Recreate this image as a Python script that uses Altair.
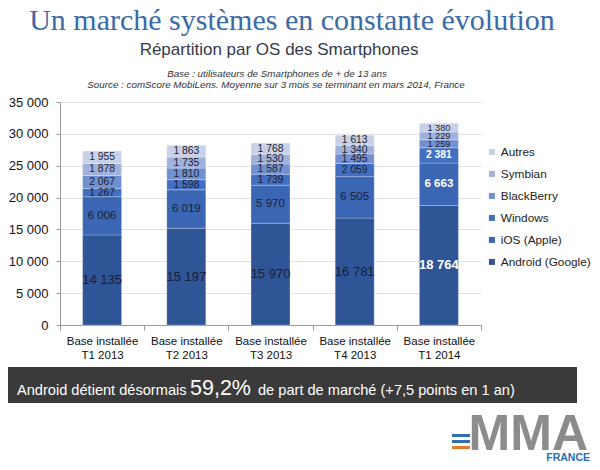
import altair as alt
import pandas as pd

# ---- data ----
quarters = ["T1 2013", "T2 2013", "T3 2013", "T4 2013", "T1 2014"]
os_names = ["Android (Google)", "iOS (Apple)", "Windows", "BlackBerry", "Symbian", "Autres"]
android = [14135, 15197, 15970, 16781, 18764]
ios = [6006, 6019, 5970, 6505, 6663]
windows = [1267, 1598, 1739, 2059, 2381]
blackberry = [2067, 1810, 1587, 1495, 1259]
symbian = [1878, 1735, 1530, 1340, 1229]
autres = [1955, 1863, 1768, 1613, 1380]
y_ticks = [0, 5000, 10000, 15000, 20000, 25000, 30000, 35000]

title_text = ["Un marché systèmes en constante évolution"]
subtitle_text = ["Répartition par OS des Smartphones"]
base_text = ["Base : utilisateurs de Smartphones de + de 13 ans"]
source_text = ["Source : comScore MobiLens.  Moyenne sur 3 mois se terminant en mars 2014, France"]
band_text1 = ["Android détient désormais"]
band_text2 = ["59,2%"]
band_text3 = ["de part de marché (+7,5 points en 1 an)"]
logo_text = ["MMA"]
logo_sub = ["FRANCE"]

# ---- styles ----
os_colors = {
    "Android (Google)": "#2f5597",
    "iOS (Apple)": "#3a66b4",
    "Windows": "#426fbf",
    "BlackBerry": "#7190cf",
    "Symbian": "#a0b1da",
    "Autres": "#c8d1e8",
}
FONT = "Liberation Sans"
label_sizes = {"Android (Google)": 13, "iOS (Apple)": 11.5, "Windows": 10.3,
               "BlackBerry": 10.3, "Symbian": 10.3, "Autres": 10.3}
legend_order = ["Autres", "Symbian", "BlackBerry", "Windows", "iOS (Apple)", "Android (Google)"]

series = [android, ios, windows, blackberry, symbian, autres]
rows = []
for rank, (name, vals) in enumerate(zip(os_names, series)):
    for q, v in zip(quarters, vals):
        hl = 1 if (q == "T1 2014" and rank <= 2) else 0
        fs = label_sizes[name]
        if q == "T1 2014" and rank >= 3:
            fs = 9.2
        rows.append({"quarter": q, "os": name, "value": v, "rank": rank,
                     "fs": fs, "hl": hl})
df = pd.DataFrame(rows)

OX, OY = 60, 102  # page position of plot origin


def px(x):
    return x - OX


def py(y):
    return y - OY


x_axis = alt.Axis(labelExpr="datum.label ? ['Base installée', datum.label] : ''",
                  labelAngle=0, labelFont=FONT, labelFontSize=11.5,
                  labelColor="#111", labelLineHeight=14, labelPadding=5,
                  tickBand="extent", tickSize=5, tickColor="#9a9a9a",
                  domainColor="#9a9a9a", labelOverlap=False, title=None)
y_axis = alt.Axis(values=y_ticks, labelOverlap=False, tickCount=8,
                  labelExpr="replace(format(datum.value, ','), ',', ' ')",
                  labelFont=FONT, labelFontSize=13, labelColor="#111",
                  labelPadding=8, tickSize=4, tickColor="#9a9a9a",
                  domainColor="#9a9a9a", gridColor="#e2e2e2", title=None)
x_scale = alt.Scale(paddingInner=0, paddingOuter=0)
y_scale = alt.Scale(domain=[0, 35000], nice=False)

base = alt.Chart(df)

bars = base.mark_bar(size=39, stroke="#ffffff", strokeWidth=0.5, strokeOpacity=0.5).encode(
    x=alt.X("quarter:N", sort=quarters, scale=x_scale, axis=x_axis),
    y=alt.Y("value:Q", stack="zero", scale=y_scale, axis=y_axis),
    color=alt.Color("os:N",
                    scale=alt.Scale(domain=legend_order,
                                    range=[os_colors[o] for o in legend_order]),
                    legend=alt.Legend(orient="none", legendX=426, legendY=44, title=None,
                                      padding=0, offset=0,
                                      symbolType="square", symbolSize=36,
                                      symbolStrokeWidth=0, labelFont=FONT,
                                      labelFontSize=11.8, labelColor="#222",
                                      labelOffset=3, rowPadding=9, labelLimit=200)),
    order=alt.Order("rank:Q", sort="ascending"),
)

stacked = base.transform_stack(
    stack="value", as_=["y0", "y1"], groupby=["quarter"],
    sort=[alt.SortField("rank", order="ascending")],
).transform_calculate(
    mid="(datum.y0 + datum.y1) / 2",
    lab="replace(format(datum.value, ','), ',', ' ')",
)

labels_dark = stacked.transform_filter("datum.hl == 0").mark_text(
    font=FONT, color="#1b1d33", baseline="middle").encode(
    x=alt.X("quarter:N", sort=quarters, scale=x_scale, axis=x_axis),
    y=alt.Y("mid:Q", stack=None, scale=y_scale, axis=y_axis),
    text="lab:N",
    size=alt.Size("fs:Q", scale=None, legend=None),
)
labels_white = stacked.transform_filter("datum.hl == 1").mark_text(
    font=FONT, color="#ffffff", fontWeight="bold", baseline="middle").encode(
    x=alt.X("quarter:N", sort=quarters, scale=x_scale, axis=x_axis),
    y=alt.Y("mid:Q", stack=None, scale=y_scale, axis=y_axis),
    text="lab:N",
    size=alt.Size("fs:Q", scale=None, legend=None),
)


def text_layer(values, x, y, **kw):
    return alt.Chart(pd.DataFrame({"t": values})).mark_text(**kw).encode(
        text="t:N", x=alt.value(x), y=alt.value(y))


title = text_layer(title_text, px(292), py(30), font="Liberation Serif", fontSize=30,
                   color="#3b6ba6", align="center", baseline="alphabetic")
subtitle = text_layer(subtitle_text, px(279), py(55), font=FONT, fontSize=17,
                      color="#343a4e", align="center", baseline="alphabetic")
base_line = text_layer(base_text, px(277), py(77), font=FONT, fontSize=9.8,
                       fontStyle="italic", color="#333", align="center", baseline="alphabetic")
source_line = text_layer(source_text, px(276), py(88), font=FONT, fontSize=9.8,
                         fontStyle="italic", color="#333", align="center", baseline="alphabetic")

band = alt.Chart(pd.DataFrame({"a": [0]})).mark_rect(color="#3a3a3a").encode(
    x=alt.value(px(8)), x2=alt.value(px(577)), y=alt.value(py(367)), y2=alt.value(py(403)))
bt1 = text_layer(band_text1, px(17), py(394.5), font=FONT, fontSize=14.6, color="#ffffff",
                 align="left", baseline="alphabetic")
bt2 = text_layer(band_text2, px(190), py(395), font=FONT, fontSize=21.5, color="#ffffff",
                 align="left", baseline="alphabetic")
bt3 = text_layer(band_text3, px(258), py(394.5), font=FONT, fontSize=14.6, color="#ffffff",
                 align="left", baseline="alphabetic")

logo = text_layer(logo_text, px(588), py(450), font=FONT, fontSize=50, fontWeight="bold",
                  color="#8c8c8c", align="right", baseline="alphabetic")
logo2 = text_layer(logo_sub, px(590), py(461), font=FONT, fontSize=10.5, fontWeight="bold",
                   color="#2a6db5", align="right", baseline="alphabetic")


def stripe(y, color):
    return alt.Chart(pd.DataFrame({"a": [0]})).mark_rect(color=color).encode(
        x=alt.value(px(452)), x2=alt.value(px(470)), y=alt.value(py(y)), y2=alt.value(py(y + 3)))


s1 = stripe(434, "#2f6db5")
s2 = stripe(440, "#2f6db5")
s3 = stripe(446, "#e07a2a")

chart = alt.layer(
    bars, labels_dark, labels_white, title, subtitle, base_line, source_line,
    band, bt1, bt2, bt3, logo, logo2, s1, s2, s3,
).properties(
    width=421, height=223,
    autosize=alt.AutoSizeParams(type="none"),
    padding={"left": 52, "top": 94, "right": 111, "bottom": 137},
    background="#ffffff",
).configure_view(stroke=None)

chart.save("out.html", embed_options={"renderer": "svg", "actions": False})
